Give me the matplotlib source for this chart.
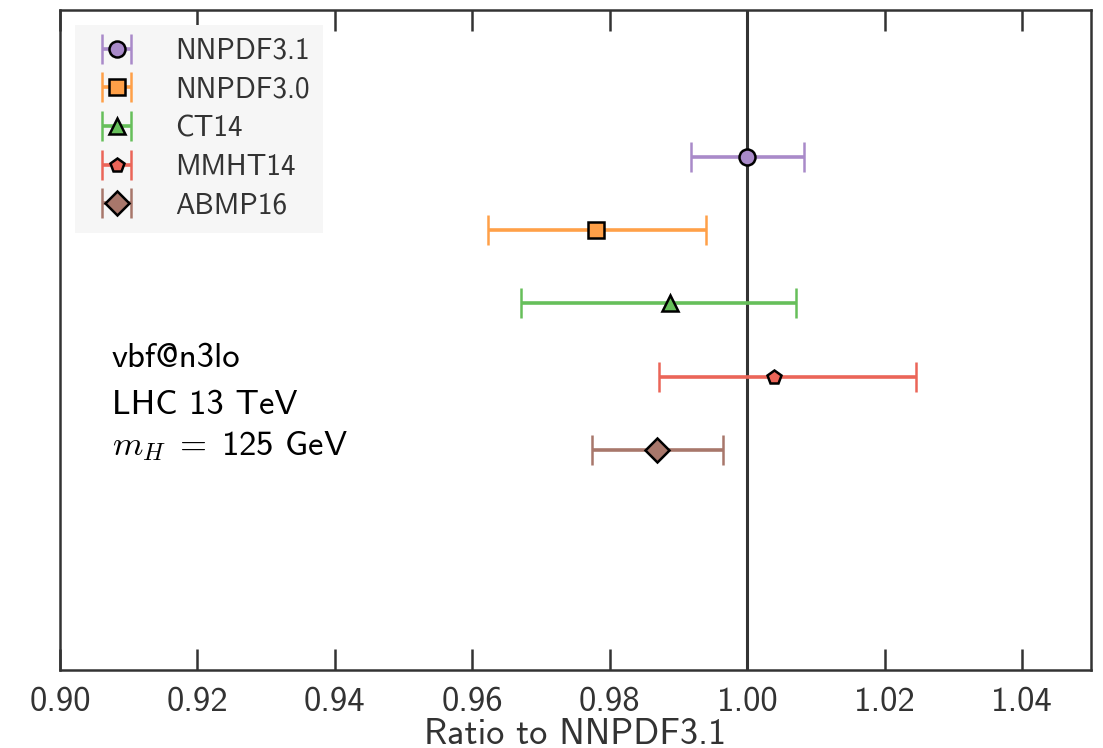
import matplotlib
matplotlib.use("Agg")
import matplotlib.pyplot as plt

plt.rcParams["font.family"] = ["cmss10", "DejaVu Sans"]
plt.rcParams["mathtext.fontset"] = "custom"
plt.rcParams["mathtext.rm"] = "cmss10"
plt.rcParams["mathtext.it"] = "cmmi10"
plt.rcParams["mathtext.bf"] = "cmb10"
plt.rcParams["axes.unicode_minus"] = False
plt.rcParams["axes.formatter.use_mathtext"] = False

# PDF sets and central ratio / uncertainty band (lower, upper)
pdfs = ["NNPDF3.1", "NNPDF3.0", "CT14", "MMHT14", "ABMP16"]
central = [1.0000, 0.9780, 0.9888, 1.0039, 0.9869]
lower = [0.9918, 0.9622, 0.9670, 0.9872, 0.9774]
upper = [1.0082, 0.9940, 1.0071, 1.0246, 0.9965]
xticks = [0.90, 0.92, 0.94, 0.96, 0.98, 1.00, 1.02, 1.04]

colors = ["#a98ac9", "#ffa048", "#66bf5a", "#eb6558", "#a8776b"]
markers = ["o", "s", "^", "p", "D"]
msizes = [11.5, 11, 11, 10, 12]

fig, ax = plt.subplots(figsize=(11.03, 7.48), dpi=100)
fig.subplots_adjust(left=60 / 1103, right=1091 / 1103, top=1 - 10 / 748, bottom=1 - 670 / 748)

ax.axvline(1.0, color="#333333", lw=2.2, zorder=1)

for i, (name, c, lo, hi) in enumerate(zip(pdfs, central, lower, upper)):
    ax.errorbar(c, i, xerr=[[c - lo], [hi - c]], fmt=markers[i], color=colors[i],
                mfc=colors[i], mec="black", mew=1.8, ms=msizes[i], elinewidth=2.6,
                capsize=11, capthick=2.0, label=name, zorder=3)

ax.set_xlim(0.90, 1.05)
ax.set_ylim(7.0, -2.0)
ax.set_yticks([])
ax.set_xticks(xticks)
ax.set_xticklabels([f"{t:.2f}" for t in xticks])
ax.tick_params(axis="x", direction="in", length=15, width=1.8, top=True,
               labelsize=25, labelcolor="#333333", color="#333333", pad=12)
for sp in ax.spines.values():
    sp.set_color("#333333")
    sp.set_linewidth(1.8)
ax.set_xlabel("Ratio to NNPDF3.1", fontsize=26, color="#333333", labelpad=0)

info = ["vbf@n3lo", "LHC 13 TeV", r"$m_H\;=\;125$ GeV"]
info_y = [0.459, 0.388, 0.326]
for s, yy in zip(info, info_y):
    ax.text(0.05, yy, s, transform=ax.transAxes, fontsize=25,
            va="baseline", ha="left", color="black")

leg = ax.legend(loc="upper left", fontsize=21, frameon=True, handlelength=2.0,
                handletextpad=1.0, labelspacing=0.4, borderaxespad=0.5,
                borderpad=0.45, fancybox=False)
leg.get_frame().set_facecolor("#f6f6f6")
leg.get_frame().set_edgecolor("none")
leg.get_frame().set_alpha(1.0)
for t in leg.get_texts():
    t.set_color("#333333")

fig.savefig("out.png", dpi=100)
